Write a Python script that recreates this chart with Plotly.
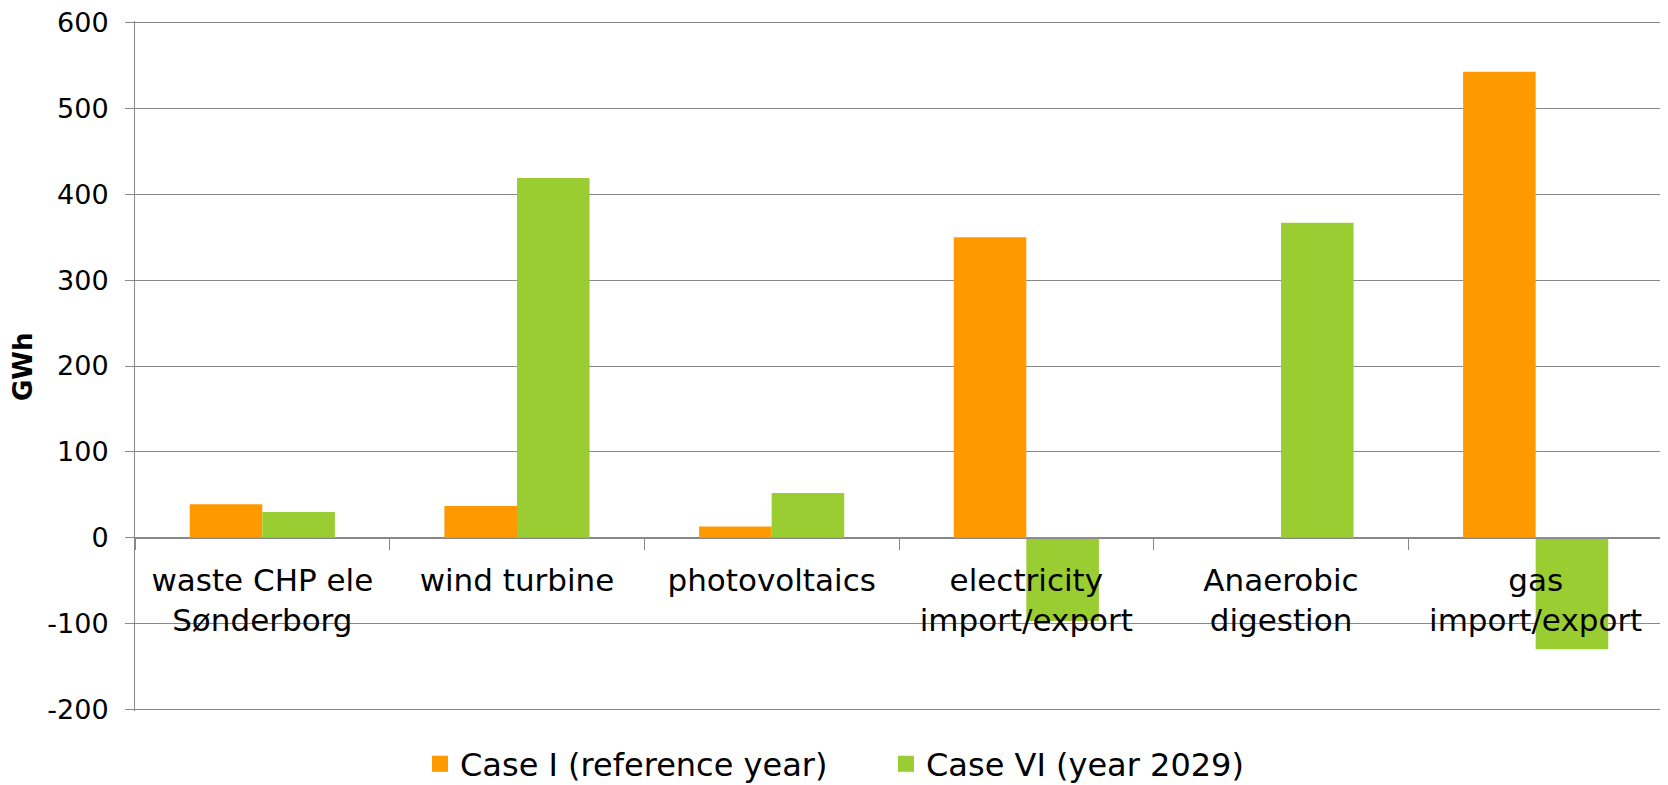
import plotly.graph_objects as go

categories = ["waste CHP ele<br>Sønderborg", "wind turbine", "photovoltaics",
              "electricity<br>import/export", "Anaerobic<br>digestion", "gas<br>import/export"]
case_i = [39, 37, 13, 350, 0, 543]
case_vi = [30, 419, 52, -97, 367, -130]
series_names = ["Case I (reference year)", "Case VI (year 2029)"]
series_colors = ["#FF9900", "#9ACD32"]
y_ticks = [-200, -100, 0, 100, 200, 300, 400, 500, 600]

FONT = "DejaVu Sans"
GRID = "#888888"
W, H = 1660, 777  # page body has an 8px default margin

fig = go.Figure()
for vals, name, col in zip([case_i, case_vi], series_names, series_colors):
    fig.add_trace(go.Bar(x=categories, y=vals, name=name, showlegend=False,
                         marker=dict(color=col, line=dict(width=0))))
# legend proxies (larger square swatches)
for name, col in zip(series_names, series_colors):
    fig.add_trace(go.Scatter(x=[None], y=[None], mode="markers", name=name,
                             marker=dict(symbol="square", size=18, color=col),
                             hoverinfo="skip"))

y0, y1 = y_ticks[0] - 2, y_ticks[-1] + 2
fig.update_layout(
    width=W, height=H,
    margin=dict(l=127, r=5, t=13, b=74, autoexpand=False),
    paper_bgcolor="white", plot_bgcolor="white",
    barmode="group", bargap=0.43, bargroupgap=0,
    font=dict(family=FONT, color="black"),
    showlegend=True,
    legend=dict(orientation="h", xref="container", yref="container",
                x=(423 - 11) / W, xanchor="left", y=1 - 756 / H, yanchor="middle",
                font=dict(size=32, family=FONT),
                entrywidth=421, entrywidthmode="pixels"),
    xaxis=dict(anchor="free", position=(0 - y0) / (y1 - y0), showline=True,
               linecolor=GRID, linewidth=1,
               ticks="outside", tickson="boundaries", ticklen=11, tickcolor=GRID,
               tickfont=dict(size=31, family=FONT), showgrid=False, zeroline=False,
               ticklabelstandoff=15, automargin=False, ticklabeloverflow="allow"),
    yaxis=dict(range=[y0, y1], tickvals=y_ticks, ticktext=[str(v) for v in y_ticks],
               showgrid=True, gridcolor=GRID, gridwidth=1,
               showline=True, linecolor=GRID, linewidth=1, ticks="outside", ticklen=9,
               tickcolor=GRID, tickfont=dict(size=27, family=FONT), zeroline=False,
               ticklabelstandoff=11, automargin=False, ticklabeloverflow="allow"),
    annotations=[dict(text="<b>GWh</b>", xref="paper", yref="paper",
                      x=(23 - 135) / 1528, y=(711 - 367) / 690,
                      xanchor="center", yanchor="middle", textangle=-90,
                      showarrow=False, font=dict(size=26, family=FONT))],
)

fig.write_html("out.html")
